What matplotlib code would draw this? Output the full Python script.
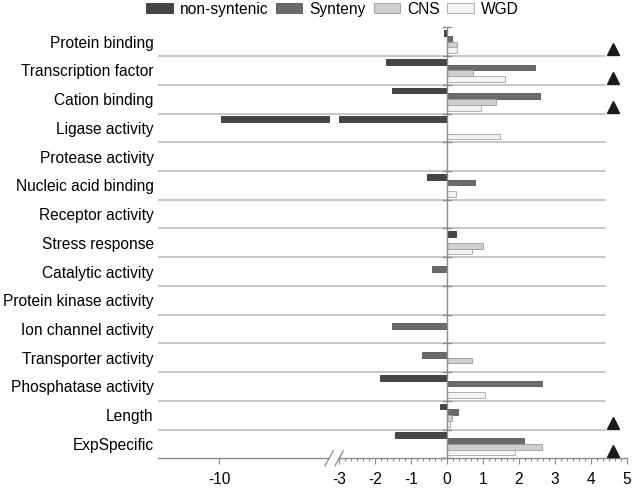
import matplotlib
matplotlib.use("Agg")
import matplotlib.pyplot as plt
from matplotlib.patches import Patch

plt.rcParams.update({
    "font.family": ["Liberation Sans", "DejaVu Sans"],
    "font.size": 11.2,
})

# -------------------------------------------------------------------------
# DATEN
# -------------------------------------------------------------------------
KATEGORIEN = ["Protein binding", "Transcription factor", "Cation binding",
              "Ligase activity", "Protease activity", "Nucleic acid binding",
              "Receptor activity", "Stress response", "Catalytic activity",
              "Protein kinase activity", "Ion channel activity",
              "Transporter activity", "Phosphatase activity", "Length",
              "ExpSpecific"]
SERIEN = ["non-syntenic", "Synteny", "CNS", "WGD"]

non_syntenic = [-0.09, -1.69, -1.52, -9.9, 0, -0.55, 0, 0.26, 0, 0, 0, 0, -1.85, -0.19, -1.45]
synteny      = [0.15, 2.45, 2.60, 0, 0, 0.78, 0, 0, -0.41, 0, -1.53, -0.70, 2.65, 0.30, 2.14]
cns          = [0.27, 0.73, 1.37, 0, 0, 0, 0, 1.00, 0, 0, 0, 0.70, 0, 0.15, 2.64]
wgd          = [0.27, 1.62, 0.95, 1.47, 0, 0.26, 0, 0.69, 0, 0, 0, 0, 1.05, 0.09, 1.90]

SIGNIFIKANT = ["Protein binding", "Transcription factor", "Cation binding",
               "Length", "ExpSpecific"]

XTICKS = [-10, -3, -2, -1, 0, 1, 2, 3, 4, 5]

FARBEN = ["#454545", "#6b6b6b", "#cfcfcf", "#f3f3f3"]
KANTEN = ["#333333", "#555555", "#9a9a9a", "#a5a5a5"]
GRID   = "#b8b8b8"
ACHSE  = "#8c8c8c"

# Achsenbruch: links von -3 gestaucht
BRUCH = -3.0
LUECKE = 0.27
STAUCH = 0.437


def brk(x):
    if x >= BRUCH:
        return x
    return BRUCH - LUECKE - (BRUCH - x) * STAUCH


XMIN, XMAX = -8.03, 5.0
GRID_END = 4.39

fig = plt.figure(figsize=(6.33, 4.88), dpi=100)
ax = fig.add_axes([158 / 633, 29.7 / 488, 468.7 / 633, 431 / 488])

balken_h = 0.2
for s, werte in enumerate([non_syntenic, synteny, cns, wgd]):
    for i, v in enumerate(werte):
        if v == 0:
            continue
        y = i - 0.3 + s * balken_h
        if v < BRUCH:
            # Balken ueber den Achsenbruch aufteilen
            ax.barh(y, BRUCH, left=0, height=balken_h, color=FARBEN[s],
                    edgecolor=KANTEN[s], linewidth=0.6, zorder=3)
            ax.barh(y, BRUCH - LUECKE - brk(v), left=brk(v), height=balken_h,
                    color=FARBEN[s], edgecolor=KANTEN[s], linewidth=0.6, zorder=3)
        else:
            ax.barh(y, v, left=0, height=balken_h, color=FARBEN[s],
                    edgecolor=KANTEN[s], linewidth=0.6, zorder=3)

# Trennlinien zwischen Kategorien
for k in range(len(KATEGORIEN) - 1):
    ax.plot([XMIN, GRID_END], [k + 0.5, k + 0.5], color=GRID, lw=1.1, zorder=1)
# Kategorieachse bei 0 mit kleinen Strichen
ax.plot([0, 0], [-0.5, len(KATEGORIEN) - 0.5], color=ACHSE, lw=1, zorder=4)
for k in range(len(KATEGORIEN) + 1):
    ax.plot([-0.11, 0.11], [k - 0.5, k - 0.5], color=ACHSE, lw=1, zorder=4,
            clip_on=False)

# Signifikanz-Dreiecke
for name in SIGNIFIKANT:
    i = KATEGORIEN.index(name)
    ax.plot(4.63, i + 0.26, marker="^", ms=8, color="#1a1a1a",
            linestyle="none", zorder=5, clip_on=False)

ax.set_xlim(XMIN, XMAX)
ax.set_ylim(len(KATEGORIEN) - 0.5, -0.5)
ax.set_yticks(range(len(KATEGORIEN)))
ax.set_yticklabels(KATEGORIEN)
ax.tick_params(axis="y", length=0, pad=3)

ax.set_xticks([brk(v) for v in XTICKS])
ax.set_xticklabels([str(v) for v in XTICKS])
minor = [m + j / 6 for m in range(-3, 5) for j in range(1, 6)]
ax.set_xticks(minor, minor=True)
ax.tick_params(axis="x", which="major", length=4.5, width=0.8, color=ACHSE, pad=5.5)
ax.tick_params(axis="x", which="minor", length=2.5, width=0.8, color=ACHSE)

for sp in ax.spines.values():
    sp.set_visible(False)

# x-Achse mit Bruchzeichen
ax.plot([XMIN, -3.28], [len(KATEGORIEN) - 0.5] * 2, color=ACHSE, lw=1,
        clip_on=False, zorder=4)
ax.plot([-3.0, XMAX], [len(KATEGORIEN) - 0.5] * 2, color=ACHSE, lw=1,
        clip_on=False, zorder=4)
trans = ax.get_xaxis_transform()
for x0 in (-3.39, -3.11):
    ax.plot([x0, x0 + 0.23], [-0.0174, 0.0174], color=ACHSE, lw=0.9,
            transform=trans, clip_on=False, zorder=4)

fig.legend(handles=[Patch(facecolor=FARBEN[s], edgecolor=KANTEN[s], lw=0.6,
                          label=SERIEN[s]) for s in range(4)],
           loc="center", bbox_to_anchor=(0.525, 0.981), ncol=4, frameon=False,
           handlelength=1.7, handleheight=0.6, handletextpad=0.45,
           columnspacing=0.5, borderaxespad=0, borderpad=0)

fig.savefig("out.png", dpi=100)
